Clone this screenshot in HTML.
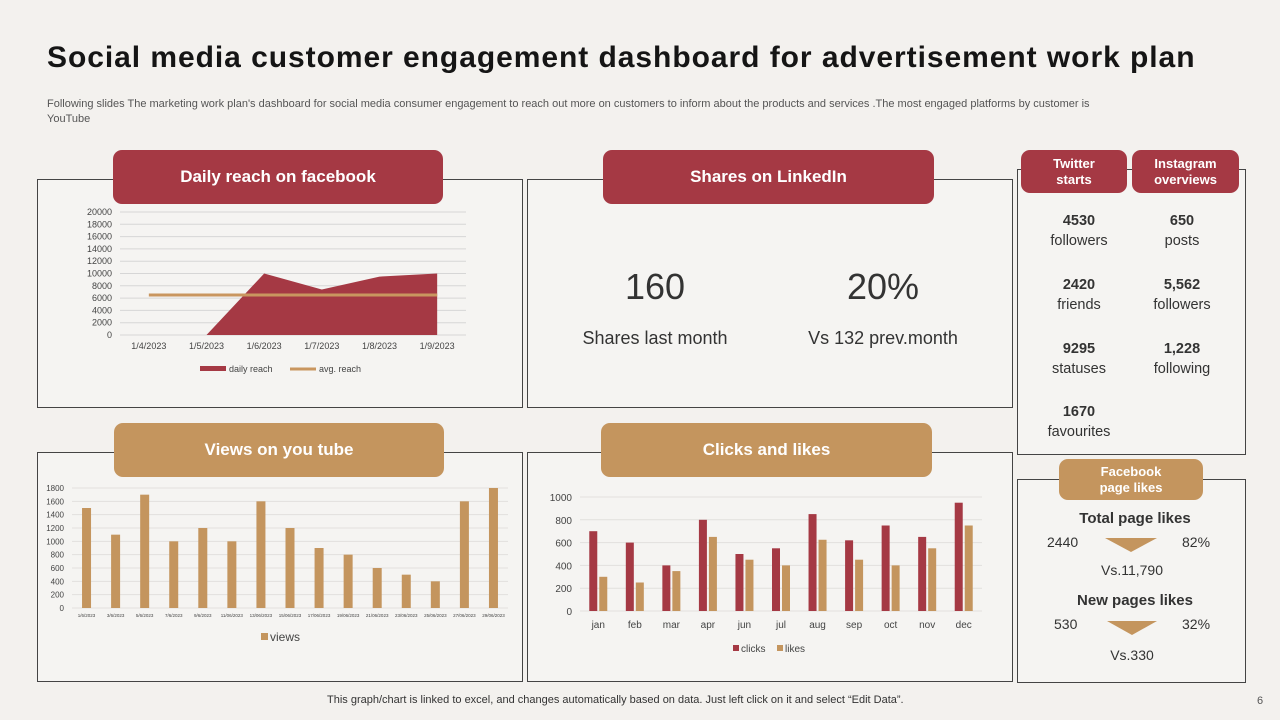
<!DOCTYPE html>
<html><head><meta charset="utf-8">
<style>
body{margin:0;width:1280px;height:720px;overflow:hidden;background:#f3f1ee;font-family:"Liberation Sans",sans-serif;position:relative;color:#333}
.a{position:absolute}
.box{position:absolute;border:1px solid #444;background:rgba(248,247,245,0.5)}
.hd{position:absolute;border-radius:9px;color:#fff;font-weight:bold;display:flex;align-items:center;justify-content:center;text-align:center;line-height:1.2}
.red{background:#a53944}.tan{background:#c4955e}
.c{text-align:center}
svg text{font-family:"Liberation Sans",sans-serif}
</style></head><body>
<div class="a" style="left:47px;top:41px;font-size:30px;font-weight:bold;color:#151515;letter-spacing:0.95px;white-space:nowrap">Social media customer engagement dashboard for advertisement work plan</div>
<div class="a" style="left:47px;top:97px;width:1080px;font-size:11px;color:#555;line-height:15px">Following slides The marketing work plan's dashboard for social media consumer engagement to reach out more on customers to inform about the products and services .The most engaged platforms by customer is YouTube</div>

<div class="box" style="left:37px;top:179px;width:484px;height:227px"></div>
<div class="hd red" style="left:113px;top:150px;width:330px;height:54px;font-size:17px">Daily reach on facebook</div>
<svg class="a" id="fb" style="left:0;top:0" width="530" height="410"></svg>

<div class="box" style="left:527px;top:179px;width:484px;height:227px"></div>
<div class="hd red" style="left:603px;top:150px;width:331px;height:54px;font-size:17px">Shares on LinkedIn</div>
<div class="a c" style="left:555px;top:266px;width:200px;font-size:36px;color:#333">160</div>
<div class="a c" style="left:555px;top:328px;width:200px;font-size:18px;color:#333">Shares last month</div>
<div class="a c" style="left:783px;top:266px;width:200px;font-size:36px;color:#333">20%</div>
<div class="a c" style="left:773px;top:328px;width:220px;font-size:18px;color:#333">Vs 132 prev.month</div>

<div class="box" style="left:1017px;top:169px;width:227px;height:284px"></div>
<div class="hd red" style="left:1021px;top:150px;width:106px;height:43px;font-size:13px">Twitter<br>starts</div>
<div class="hd red" style="left:1132px;top:150px;width:107px;height:43px;font-size:13px">Instagram<br>overviews</div>
<div class="a c" style="left:1024px;top:211px;width:110px;font-size:14.5px;line-height:20px">
<b>4530</b><br>followers<div style="height:24px"></div><b>2420</b><br>friends<div style="height:24px"></div><b>9295</b><br>statuses<div style="height:23px"></div><b>1670</b><br>favourites</div>
<div class="a c" style="left:1127px;top:211px;width:110px;font-size:14.5px;line-height:20px">
<b>650</b><br>posts<div style="height:24px"></div><b>5,562</b><br>followers<div style="height:24px"></div><b>1,228</b><br>following</div>

<div class="box" style="left:1017px;top:479px;width:227px;height:202px"></div>
<div class="hd tan" style="left:1059px;top:459px;width:144px;height:41px;font-size:13px">Facebook<br>page likes</div>
<div class="a c" style="left:1017px;top:510px;width:236px;font-size:15px;font-weight:bold">Total page likes</div>
<div class="a" style="left:1047px;top:534px;font-size:14px">2440</div>
<div class="a" style="left:1182px;top:534px;font-size:14px">82%</div>
<div class="a" style="left:1105px;top:538px;width:0;height:0;border-left:26px solid transparent;border-right:26px solid transparent;border-top:14px solid #c4955e"></div>
<div class="a c" style="left:1017px;top:562px;width:230px;font-size:14px">Vs.11,790</div>
<div class="a c" style="left:1017px;top:592px;width:236px;font-size:15px;font-weight:bold">New pages likes</div>
<div class="a" style="left:1054px;top:616px;font-size:14px">530</div>
<div class="a" style="left:1182px;top:616px;font-size:14px">32%</div>
<div class="a" style="left:1107px;top:621px;width:0;height:0;border-left:25px solid transparent;border-right:25px solid transparent;border-top:14px solid #c4955e"></div>
<div class="a c" style="left:1017px;top:647px;width:230px;font-size:14px">Vs.330</div>

<div class="box" style="left:37px;top:452px;width:484px;height:228px"></div>
<div class="hd tan" style="left:114px;top:423px;width:330px;height:54px;font-size:17px">Views on you tube</div>
<svg class="a" id="yt" style="left:0;top:0" width="530" height="700"></svg>

<div class="box" style="left:527px;top:452px;width:484px;height:228px"></div>
<div class="hd tan" style="left:601px;top:423px;width:331px;height:54px;font-size:17px">Clicks and likes</div>
<svg class="a" id="cl" style="left:0;top:0" width="1010" height="700"></svg>

<div class="a" style="left:327px;top:694px;font-size:11px;color:#333">This graph/chart is linked to excel, and changes automatically based on data. Just left click on it and select “Edit Data”.</div>
<div class="a" style="left:1257px;top:695px;font-size:11px;color:#555">6</div>

<script>
const fbDates=["1/4/2023","1/5/2023","1/6/2023","1/7/2023","1/8/2023","1/9/2023"];
const fbReach=[0,0,10000,7400,9500,10000];
const fbAvg=[6500,6500,6500,6500,6500,6500];
const fbTicks=[0,2000,4000,6000,8000,10000,12000,14000,16000,18000,20000];
const ytDates=["1/6/2023","3/6/2023","5/6/2023","7/6/2023","9/6/2023","11/06/2023","13/06/2023","15/06/2023","17/06/2023","19/06/2023","21/06/2023","23/06/2023","25/06/2023","27/06/2023","29/06/2023"];
const ytViews=[1500,1100,1700,1000,1200,1000,1600,1200,900,800,600,500,400,1600,1800];
const ytTicks=[0,200,400,600,800,1000,1200,1400,1600,1800];
const months=["jan","feb","mar","apr","jun","jul","aug","sep","oct","nov","dec"];
const clicks=[700,600,400,800,500,550,850,620,750,650,950];
const likes=[300,250,350,650,450,400,625,450,400,550,750];
const clTicks=[0,200,400,600,800,1000];
const NS="http://www.w3.org/2000/svg";
function mk(svg,tag,at,txt){const e=document.createElementNS(NS,tag);for(const k in at)e.setAttribute(k,at[k]);if(txt!==undefined)e.textContent=txt;svg.appendChild(e);return e;}
const RED="#a53944",TAN="#c4955e";
// Facebook
(function(){const s=document.getElementById('fb');const x0=120,x1=466,y0=335,y1=212;
const ys=v=>y0-(v/20000)*(y0-y1);const step=(x1-x0)/fbDates.length;const xs=i=>x0+step*(i+0.5);
fbTicks.forEach(t=>{let l=mk(s,'line',{x1:x0,x2:x1,y1:ys(t),y2:ys(t),stroke:'#d6d6d6','stroke-width':1});
let tx=mk(s,'text',{x:112,y:ys(t)+3,'font-size':9,'text-anchor':'end',fill:'#444'},t);});
let d='M'+xs(0)+','+ys(0);fbReach.forEach((v,i)=>d+=' L'+xs(i)+','+ys(v));d+=' L'+xs(fbReach.length-1)+','+ys(0)+'Z';
let a=mk(s,'path',{d:d,fill:RED});
let p=fbAvg.map((v,i)=>xs(i)+','+ys(v)).join(' ');let ln=mk(s,'polyline',{points:p,fill:'none',stroke:'#c9965f','stroke-width':3});
fbDates.forEach((c,i)=>{let t=mk(s,'text',{x:xs(i),y:349,'font-size':9,'text-anchor':'middle',fill:'#444'},c);});
let r=mk(s,'rect',{x:200,y:366,width:26,height:5,fill:RED});
mk(s,'text',{x:229,y:372,'font-size':9,fill:'#444'},'daily reach');
let r2=mk(s,'line',{x1:290,x2:316,y1:369,y2:369,stroke:'#c9965f','stroke-width':3});
mk(s,'text',{x:319,y:372,'font-size':9,fill:'#444'},'avg. reach');})();
// YouTube
(function(){const s=document.getElementById('yt');const x0=72,x1=508,y0=608,y1=488;
const ys=v=>y0-(v/1800)*(y0-y1);const step=(x1-x0)/ytDates.length;const xs=i=>x0+step*(i+0.5);
ytTicks.forEach(t=>{let l=mk(s,'line',{x1:x0,x2:x1,y1:ys(t),y2:ys(t),stroke:'#e2e0dd','stroke-width':1});
let tx=mk(s,'text',{x:64,y:ys(t)+3,'font-size':8,'text-anchor':'end',fill:'#444'},t);});
ytViews.forEach((v,i)=>{let b=mk(s,'rect',{x:xs(i)-4.5,y:ys(v),width:9,height:y0-ys(v),fill:TAN});
let t=mk(s,'text',{x:xs(i),y:617,'font-size':4.5,'text-anchor':'middle',fill:'#444'},ytDates[i]);});
let r=mk(s,'rect',{x:261,y:633,width:7,height:7,fill:TAN});
mk(s,'text',{x:270,y:641,'font-size':12,fill:'#444'},'views');})();
// Clicks
(function(){const s=document.getElementById('cl');const x0=580,x1=982,y0=611,y1=497;
const ys=v=>y0-(v/1000)*(y0-y1);const step=(x1-x0)/months.length;const xs=i=>x0+step*(i+0.5);
clTicks.forEach(t=>{let l=mk(s,'line',{x1:x0,x2:x1,y1:ys(t),y2:ys(t),stroke:'#e2e0dd','stroke-width':1});
let tx=mk(s,'text',{x:572,y:ys(t)+4,'font-size':10,'text-anchor':'end',fill:'#444'},t);});
months.forEach((m,i)=>{let b=mk(s,'rect',{x:xs(i)-9,y:ys(clicks[i]),width:8,height:y0-ys(clicks[i]),fill:RED});
let b2=mk(s,'rect',{x:xs(i)+1,y:ys(likes[i]),width:8,height:y0-ys(likes[i]),fill:TAN});
let t=mk(s,'text',{x:xs(i),y:628,'font-size':10,'text-anchor':'middle',fill:'#444'},m);});
let r=mk(s,'rect',{x:733,y:645,width:6,height:6,fill:RED});
mk(s,'text',{x:741,y:652,'font-size':10,fill:'#444'},'clicks');
let r2=mk(s,'rect',{x:777,y:645,width:6,height:6,fill:TAN});
mk(s,'text',{x:785,y:652,'font-size':10,fill:'#444'},'likes');})();
</script>
</body></html>
